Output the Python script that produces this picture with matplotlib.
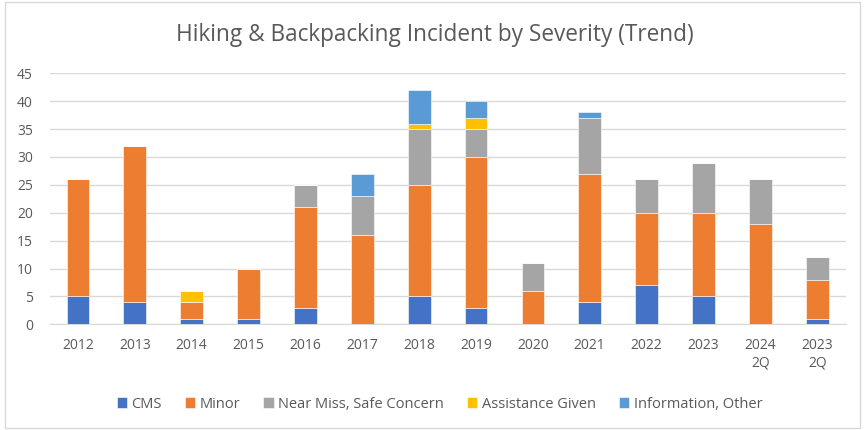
import numpy as np
import matplotlib
matplotlib.use("Agg")
import matplotlib.pyplot as plt
from matplotlib.patches import Rectangle

# data
years = ["2012", "2013", "2014", "2015", "2016", "2017", "2018",
         "2019", "2020", "2021", "2022", "2023", "2024\n2Q", "2023\n2Q"]
cms = [5, 4, 1, 1, 3, 0, 5, 3, 0, 4, 7, 5, 0, 1]
minor = [21, 28, 3, 9, 18, 16, 20, 27, 6, 23, 13, 15, 18, 7]
near_miss = [0, 0, 0, 0, 4, 7, 10, 5, 5, 10, 6, 9, 8, 4]
assistance = [0, 0, 2, 0, 0, 0, 1, 2, 0, 0, 0, 0, 0, 0]
info = [0, 0, 0, 0, 0, 4, 6, 3, 0, 1, 0, 0, 0, 0]

series = [
    ("CMS", cms, "#4472C4"),
    ("Minor", minor, "#ED7D31"),
    ("Near Miss, Safe Concern", near_miss, "#A5A5A5"),
    ("Assistance Given", assistance, "#FFC000"),
    ("Information, Other", info, "#5B9BD5"),
]

plt.rcParams['font.family'] = ['Open Sans', 'DejaVu Sans']
text_col = "#595959"
grid_col = "#D9D9D9"

fig = plt.figure(figsize=(8.65, 4.3), dpi=100)
ax = fig.add_axes([0.0573, 0.2458, 0.9203, 0.5837])

x = np.arange(len(years))
bottom = np.zeros(len(years))
for name, vals, col in series:
    vals = np.array(vals, dtype=float)
    ax.bar(x, vals, width=0.4, bottom=bottom, color=col, label=name,
           edgecolor="white", linewidth=0.4, zorder=3)
    bottom += vals

ax.set_xlim(-0.5, len(years) - 0.5)
ax.set_ylim(0, 45)
ax.set_yticks(range(0, 46, 5))
ax.set_xticks(x)
ax.set_xticklabels(years)
ax.grid(axis="y", color=grid_col, linewidth=1, zorder=0)
for s in ["top", "right", "left"]:
    ax.spines[s].set_visible(False)
ax.spines["bottom"].set_color(grid_col)
ax.tick_params(length=0, colors=text_col, labelsize=10)
ax.tick_params(axis="x", pad=10)
ax.tick_params(axis="y", pad=12)

fig.suptitle("Hiking & Backpacking Incident by Severity (Trend)",
             x=0.503, y=0.918, va="center", fontsize=16.3, color=text_col)

leg = fig.legend(loc="center", bbox_to_anchor=(0.508, 0.06), ncol=5,
                 frameon=False, fontsize=10.5, handlelength=0.7,
                 handleheight=0.7, handletextpad=0.3, columnspacing=1.6)
for t in leg.get_texts():
    t.set_color(text_col)

# chart outline
fig.patches.append(Rectangle((0.006, 0.005), 0.988, 0.99, transform=fig.transFigure,
                             fill=False, edgecolor=grid_col, linewidth=1))

fig.savefig("out.png", dpi=100)
